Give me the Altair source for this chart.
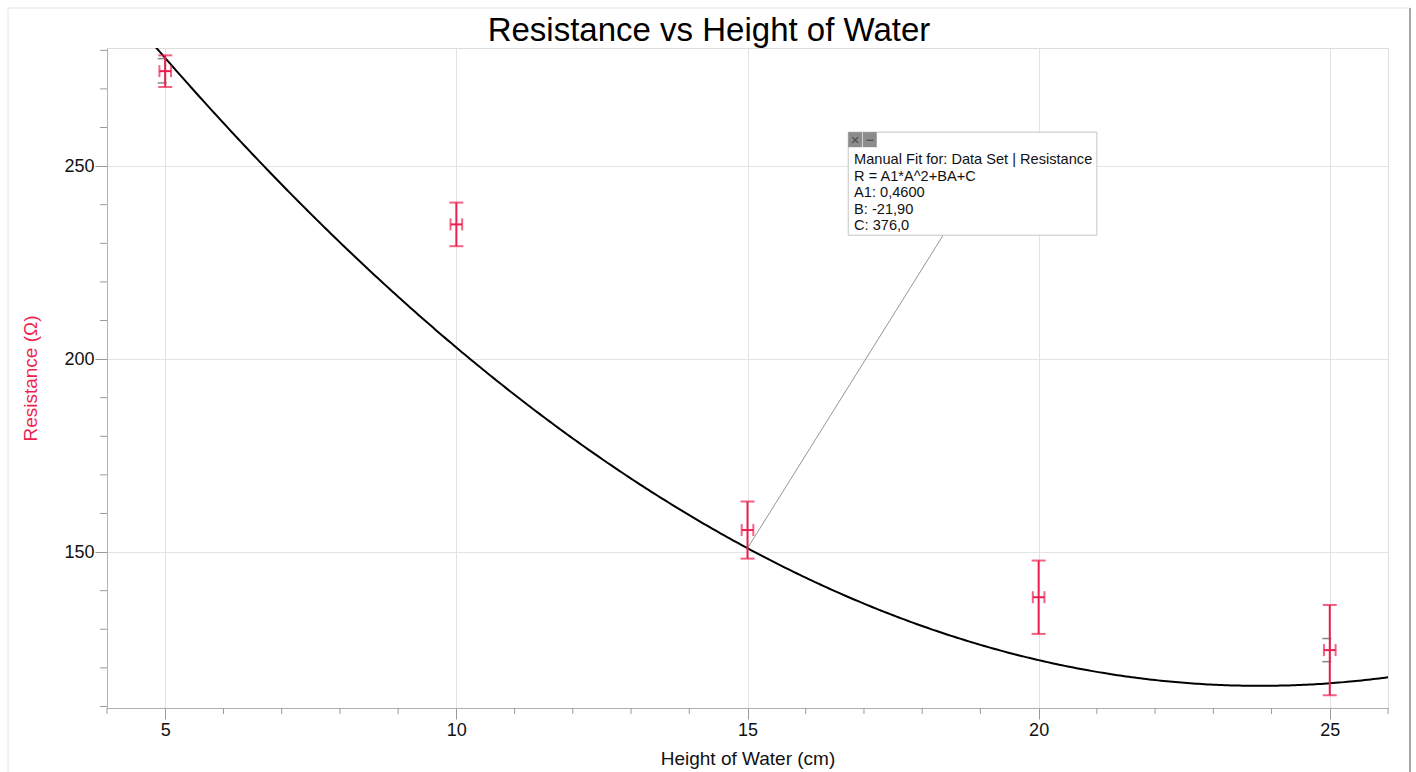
import altair as alt
import pandas as pd

# Measured data: water height (cm) vs resistance (ohm)
heights = [5, 10, 15, 20, 25]
resistance = [274.6, 234.9, 155.7, 138.3, 124.6]
resistance_err = [4.1, 5.65, 7.4, 9.5, 11.7]
height_err = [0.1, 0.1, 0.1, 0.1, 0.1]

# Secondary (instrument) uncertainty bars shown on two points
inst_heights = [5, 25]
inst_resistance = [274.7, 124.6]
inst_err = [3.15, 3.0]

# Manual quadratic fit R = A1*A^2 + B*A + C
A1, B, C = 0.46, -21.90, 376.0
fit_lines = [
    "Manual Fit for: Data Set | Resistance",
    "R = A1*A^2+BA+C",
    "A1: 0,4600",
    "B: -21,90",
    "C: 376,0",
]
chart_title = "Resistance vs Height of Water"

x_major = [5, 10, 15, 20, 25]
x_minor = [v for v in range(4, 27) if v % 5 != 0]
y_major = [150, 200, 250]
y_minor = [v for v in range(110, 281, 10) if v % 50 != 0]

RED = "#ee1f4f"
TICK = "#9a9a9a"
FONT = "Liberation Sans"

df = pd.DataFrame({
    "h": heights, "r": resistance,
    "r_lo": [r - e for r, e in zip(resistance, resistance_err)],
    "r_hi": [r + e for r, e in zip(resistance, resistance_err)],
    "h_lo": [h - e for h, e in zip(heights, height_err)],
    "h_hi": [h + e for h, e in zip(heights, height_err)],
})
inst = pd.DataFrame({
    "h": inst_heights,
    "lo": [r - e for r, e in zip(inst_resistance, inst_err)],
    "hi": [r + e for r, e in zip(inst_resistance, inst_err)],
})

xs = alt.Scale(domain=[4, 26], nice=False, zero=False)
ys = alt.Scale(domain=[109.6, 280.6], nice=False, zero=False)

x_axis = alt.Axis(
    values=x_major, format="d", title="Height of Water (cm)",
    grid=True, gridColor="#e3e3e3", tickSize=11, tickColor=TICK, domainColor="#b0b0b0",
    labelFontSize=18, labelFont=FONT, labelColor="#111", labelPadding=2,
    titleFont=FONT, titleFontSize=19, titleFontWeight="normal", titleColor="#111", titlePadding=10,
)
y_axis = alt.Axis(
    values=y_major, format="d", title="Resistance (Ω)",
    grid=True, gridColor="#e3e3e3", tickSize=12, tickColor=TICK, domainColor="#b0b0b0",
    labelFontSize=18, labelFont=FONT, labelColor="#111", labelPadding=1,
    titleFont=FONT, titleFontSize=19, titleFontWeight="normal", titleColor=RED, titlePadding=23,
)

base = alt.Chart(df)

# Fitted curve (carries the axes)
curve = alt.Chart(alt.sequence(4.5, 26.01, 0.05, as_="A")).transform_calculate(
    R=f"{A1}*datum.A*datum.A + ({B})*datum.A + {C}"
).mark_line(color="black", strokeWidth=2, clip=True).encode(
    x=alt.X("A:Q", scale=xs, axis=x_axis), y=alt.Y("R:Q", scale=ys, axis=y_axis))

# Minor ticks outside the plot area
x_minor_ticks = alt.Chart(pd.DataFrame({"v": x_minor})).mark_rule(color=TICK, clip=False).encode(
    x=alt.X("v:Q", scale=xs), y=alt.value(660), y2=alt.value(666))
y_minor_ticks = alt.Chart(pd.DataFrame({"v": y_minor})).mark_rule(color=TICK, clip=False).encode(
    y=alt.Y("v:Q", scale=ys), x=alt.value(-7), x2=alt.value(0))

# Instrument bars (drawn underneath)
inst_bar = alt.Chart(inst).mark_rule(color="#555", strokeWidth=1.5).encode(
    x=alt.X("h:Q", scale=xs), y=alt.Y("lo:Q", scale=ys), y2="hi:Q")
inst_cap_lo = alt.Chart(inst).mark_tick(color="#555", orient="horizontal", size=9, thickness=1.5,
                                        xOffset=-3).encode(x=alt.X("h:Q", scale=xs), y=alt.Y("lo:Q", scale=ys))
inst_cap_hi = alt.Chart(inst).mark_tick(color="#555", orient="horizontal", size=9, thickness=1.5,
                                        xOffset=-3).encode(x=alt.X("h:Q", scale=xs), y=alt.Y("hi:Q", scale=ys))

# Resistance error bars
vbar = base.mark_rule(color=RED, strokeWidth=2).encode(
    x=alt.X("h:Q", scale=xs), y=alt.Y("r_lo:Q", scale=ys), y2="r_hi:Q")
cap_lo = base.mark_tick(color=RED, orient="horizontal", size=14, thickness=2).encode(
    x=alt.X("h:Q", scale=xs), y=alt.Y("r_lo:Q", scale=ys))
cap_hi = base.mark_tick(color=RED, orient="horizontal", size=14, thickness=2).encode(
    x=alt.X("h:Q", scale=xs), y=alt.Y("r_hi:Q", scale=ys))
# Height error bars
hbar = base.mark_rule(color=RED, strokeWidth=2).encode(
    x=alt.X("h_lo:Q", scale=xs), x2="h_hi:Q", y=alt.Y("r:Q", scale=ys))
hcap_lo = base.mark_tick(color=RED, orient="vertical", size=12, thickness=2).encode(
    x=alt.X("h_lo:Q", scale=xs), y=alt.Y("r:Q", scale=ys))
hcap_hi = base.mark_tick(color=RED, orient="vertical", size=12, thickness=2).encode(
    x=alt.X("h_hi:Q", scale=xs), y=alt.Y("r:Q", scale=ys))

# Fit annotation box with leader line to the curve at A = 15
box_x0, box_x1, box_y0, box_y1 = 16.73, 21.0, 258.8, 232.1
leader_x, anchor_x = 18.36, 15.0
anchor_r = A1 * anchor_x ** 2 + B * anchor_x + C
leader = alt.Chart(pd.DataFrame({"x": [leader_x], "y": [box_y1], "x2": [anchor_x], "y2": [anchor_r]})).mark_rule(
    color="#7a7a7a", strokeWidth=0.8).encode(
    x=alt.X("x:Q", scale=xs), y=alt.Y("y:Q", scale=ys), x2="x2:Q", y2="y2:Q")
box = alt.Chart(pd.DataFrame({"x": [box_x0], "x2": [box_x1], "y": [box_y0], "y2": [box_y1]})).mark_rect(
    fill="white", stroke="#c4c4c4", strokeWidth=1).encode(
    x=alt.X("x:Q", scale=xs), x2="x2:Q", y=alt.Y("y:Q", scale=ys), y2="y2:Q")
icons = alt.Chart(pd.DataFrame({"x": [16.73, 16.98], "x2": [16.97, 17.22], "y": [258.8, 258.8],
                                "y2": [254.9, 254.9], "g": ["×", "−"]}))
icon_rects = icons.mark_rect(fill="#8c8c8c").encode(
    x=alt.X("x:Q", scale=xs), x2="x2:Q", y=alt.Y("y:Q", scale=ys), y2="y2:Q")
icon_text = icons.transform_calculate(xm="(datum.x + datum.x2) / 2", ym="(datum.y + datum.y2) / 2").mark_text(
    font=FONT, fontSize=15, color="#4a4a4a", baseline="middle").encode(
    x=alt.X("xm:Q", scale=xs), y=alt.Y("ym:Q", scale=ys), text="g:N")
box_text = alt.Chart(pd.DataFrame({"x": [16.83], "y": [253.6]})).mark_text(
    text=fit_lines, font=FONT, fontSize=14.6, color="#111", align="left", baseline="top",
    lineHeight=16.5).encode(x=alt.X("x:Q", scale=xs), y=alt.Y("y:Q", scale=ys))

# Window border lines around the page
frame = alt.Chart(pd.DataFrame({"k": [0]})).mark_rule(color="#e4e4e4", strokeWidth=1, clip=False)
frame_left = frame.encode(x=alt.value(-99), y=alt.value(-40), y2=alt.value(724))
frame_top = frame.encode(x=alt.value(-99), x2=alt.value(1303), y=alt.value(-40))
frame_right = alt.Chart(pd.DataFrame({"k": [0]})).mark_rule(color="#8a8a8a", strokeWidth=1.5, clip=False).encode(
    x=alt.value(1303), y=alt.value(-40), y2=alt.value(724))

# Chart heading, centred on the page
heading = alt.Chart(pd.DataFrame({"t": [chart_title]})).mark_text(
    font=FONT, fontSize=33, color="black", align="center", baseline="alphabetic", clip=False).encode(
    x=alt.value(602), y=alt.value(-7), text="t:N")

chart = alt.layer(
    curve,
    frame_left, frame_top, frame_right, heading,
    x_minor_ticks, y_minor_ticks,
    inst_bar, inst_cap_lo, inst_cap_hi,
    vbar, cap_lo, cap_hi, hbar, hcap_lo, hcap_hi,
    leader, box, icon_rects, icon_text, box_text,
).properties(
    width=1281, height=660,
    padding={"left": 107, "top": 48, "right": 28, "bottom": 64},
    autosize=alt.AutoSizeParams(type="none"),
).configure_view(stroke="#c8c8c8", strokeWidth=1).configure(background="white")

chart.save("out.html", embed_options={"renderer": "svg", "actions": False})
